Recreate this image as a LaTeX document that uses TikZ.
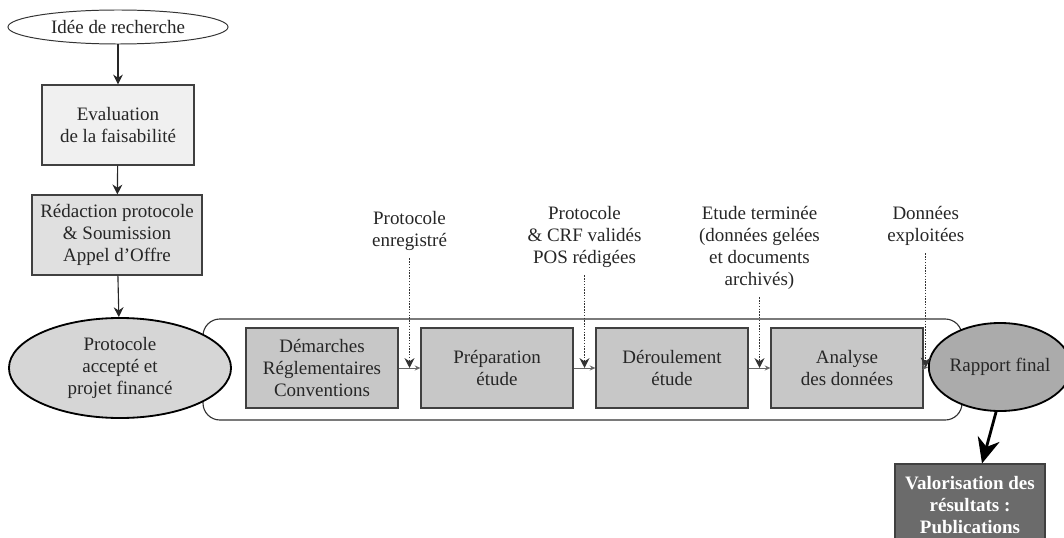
\documentclass[tikz,border=0pt]{standalone}
\usepackage{fontspec}
\setmainfont{Liberation Serif}
\usetikzlibrary{arrows.meta,shapes.geometric,calc}

\begin{document}
\begin{tikzpicture}[x=0.025cm,y=-0.025cm,
	font=\fontsize{13.5}{15.6}\selectfont, text=black!85,
	every node/.style={align=center},
	box/.style={draw=black!75,line width=0.8pt,minimum width=3.8cm,minimum height=2cm,inner sep=2pt},
	oval/.style={ellipse,draw=black,line width=1.3pt,inner sep=0pt},
	step arrow/.style={draw=black!85,line width=0.8pt,-{Stealth[length=7pt,width=7pt]}},
	flow/.style={draw=black!60,line width=0.7pt,-{Stealth[length=4pt,width=3.5pt]}},
	milestone/.style={draw=black!80,line width=1pt,densely dotted,shorten <=2pt,-{Stealth[length=7pt,width=7pt]}}]
			\useasboundingbox (0,0) rectangle (1064,538);
			% cadre des etapes
			\draw[black!80,line width=0.8pt,rounded corners=12pt] (203,319) rectangle (962,420);
			\node[oval,draw=black!80,line width=0.7pt,fill=white,minimum width=5.5cm,minimum height=0.85cm] (idee) at (118,27) {Idée de recherche};
			\node[box,fill=black!6] (eval) at (118,125) {Evaluation\\de la faisabilité};
			\node[box,fill=black!12,minimum width=4.25cm] (redac) at (117,235) {Rédaction protocole\\\& Soumission\\Appel d'Offre};
			\node[oval,fill=black!16,minimum width=5.55cm,minimum height=2.5cm] (proto) at (120,368) {Protocole\\accepté et\\projet financé};
			\node[box,fill=black!22] (dem) at (322,368) {Démarches\\Réglementaires\\Conventions};
			\node[box,fill=black!22] (prep) at (497,368) {Préparation\\étude};
			\node[box,fill=black!22] (derou) at (672,368) {Déroulement\\étude};
			\node[box,fill=black!22] (analyse) at (847,368) {Analyse\\des données};
			\node[oval,fill=black!33,minimum width=3.25cm,minimum height=2.2cm] (rapport) at (1000,367) {Rapport final};
			\node[box,fill=black!58,text=white,font=\fontsize{13.5}{15.6}\selectfont\bfseries,minimum width=3.75cm,minimum height=2.05cm] (valor) at (970,505) {Valorisation des\\résultats :\\Publications};
			% jalons
			\coordinate (m1) at ($(dem.east)!.5!(prep.west)$);
			\coordinate (m2) at ($(prep.east)!.5!(derou.west)$);
			\coordinate (m3) at ($(derou.east)!.5!(analyse.west)$);
			\coordinate (m4) at ($(analyse.east)!.5!(rapport.west)$);
			\node (jalon1) at (m1 |- 0,231) {Protocole\\enregistré};
			\node (jalon2) at (m2 |- 0,237) {Protocole\\\& CRF validés\\POS rédigées};
			\node (jalon3) at (m3 |- 0,248) {Etude terminée\\(données gelées\\et documents\\archivés)};
			\node (jalon4) at (m4 |- 0,226) {Données\\exploitées};
			\draw[step arrow] (idee) -- (eval);
			\draw[step arrow] (eval) -- (redac);
			\draw[step arrow] (redac) -- (proto);
			\draw[flow] (dem) -- (prep);
			\draw[flow] (prep) -- (derou);
			\draw[flow] (derou) -- (analyse);
			\draw[flow] (analyse) -- (rapport);
			\draw[milestone] (jalon1) -- (m1);
			\draw[milestone] (jalon2) -- (m2);
			\draw[milestone] (jalon3) -- (m3);
			\draw[milestone] (jalon4) -- (m4);
			\draw[line width=2pt,-{Stealth[length=18pt,width=16pt]}] (rapport.265) -- ($(valor.north)+(12,0)$);
		\end{tikzpicture}
\end{document}
